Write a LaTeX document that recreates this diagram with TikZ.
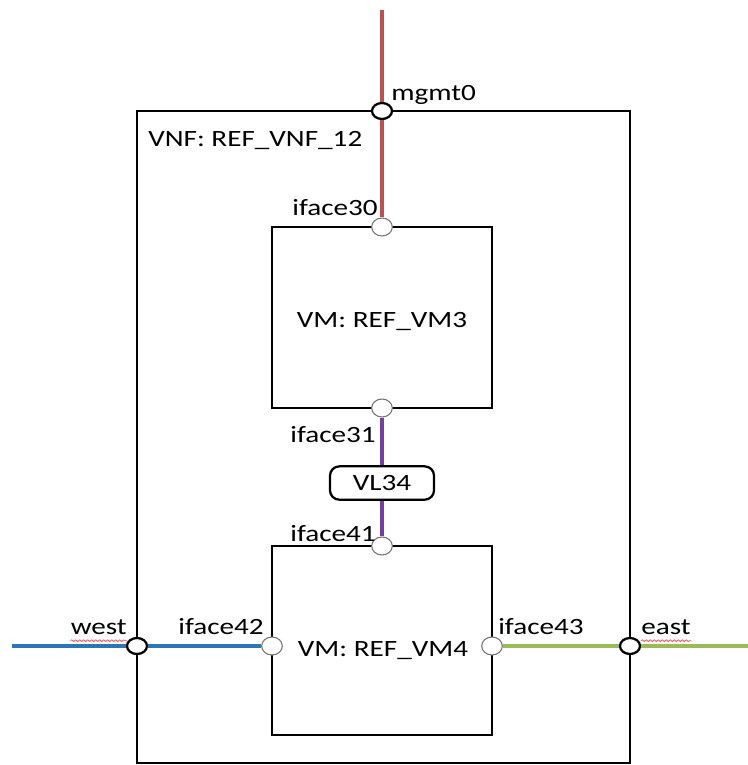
\documentclass[tikz,border=0pt]{standalone}
\usepackage{fontspec}
\setmainfont[FakeStretch=1.25]{Carlito}
\usetikzlibrary{shapes.geometric,decorations.pathmorphing}
\definecolor{mgmtRed}{RGB}{192,80,77}
\definecolor{vlPurple}{RGB}{120,60,165}
\definecolor{westBlue}{RGB}{46,117,182}
\definecolor{eastGreen}{RGB}{155,187,89}
\newcommand{\vmBox}[4]{
    \draw[box] (#1,#2) rectangle (#3,#4);
}
\tikzset{
    box/.style={line width=1.7pt},
    extport/.style={ellipse, draw, line width=1.7pt, fill=white,
        minimum width=15pt, minimum height=12pt, inner sep=0pt},
    vmport/.style={ellipse, draw=black!55, line width=0.8pt, fill=white,
        minimum width=15.5pt, minimum height=13.5pt, inner sep=0pt},
    lbl/.style={font=\fontsize{17.5}{20}\selectfont, inner sep=0pt},
    vlbox/.style={draw, line width=1.7pt, rounded corners=7pt, fill=white,
        minimum width=78pt, minimum height=25pt, inner sep=0pt},
    wire/.style={line width=2.6pt},
    squiggle/.style={red!75, line width=0.5pt, decorate,
        decoration={snake, amplitude=0.7pt, segment length=3pt}}
}

\begin{document}
\begin{tikzpicture}[x=0.75pt,y=-0.75pt]
\useasboundingbox (0,0) rectangle (748,765);

% VNF and its two VMs
\vmBox{137}{111}{630}{763}
\vmBox{272}{227}{492}{408}
\vmBox{272}{546}{492}{735}

% free ends of the outside links
\coordinate (mgmtEnd) at (382,10);
\coordinate (westEnd) at (12,646);
\coordinate (eastEnd) at (748,646);

% VNF ports
\node[extport] (mgmt0) at (382,111) {};
\node[extport] (west)  at (137,646) {};
\node[extport] (east)  at (630,646) {};

% VM ports
\node[vmport] (iface30) at (382,227) {};
\node[vmport] (iface31) at (382,408) {};
\node[vmport] (iface41) at (382,546) {};
\node[vmport] (iface42) at (272,646) {};
\node[vmport] (iface43) at (492,646) {};

% virtual link
\node[vlbox, lbl] (vl34) at (382,483) {VL34};

% links
\draw[wire, mgmtRed]  (mgmtEnd) -- (mgmt0) -- (iface30);
\draw[wire, vlPurple] (iface31) -- (vl34) -- (iface41);
\draw[wire, westBlue, line width=3.2pt] (westEnd) -- (west) -- (iface42);
\draw[wire, eastGreen] (iface43) -- (east) -- (eastEnd);

% labels
\node[lbl, anchor=base west] (mgmtLbl) at (391,100) {mgmt0};
\node[lbl, anchor=base west] (vnfLbl)  at (148,146) {VNF: REF\_VNF\_12};
\node[lbl, anchor=base east] (l30) at (378,215) {iface30};
\node[lbl, anchor=base] (vm3Lbl) at (382,327) {VM: REF\_VM3};
\node[lbl, anchor=base east] (l31) at (376,442) {iface31};
\node[lbl, anchor=base east] (l41) at (376,541) {iface41};
\node[lbl, anchor=base east] (westLbl) at (127,634) {west};
\node[lbl, anchor=base east] (l42) at (264,634) {iface42};
\node[lbl, anchor=base] (vm4Lbl) at (383,656) {VM: REF\_VM4};
\node[lbl, anchor=base west] (l43) at (498,634) {iface43};
\node[lbl, anchor=base west] (eastLbl) at (641,634) {east};

% spell-check marks
\draw[squiggle] ([yshift=-5pt]westLbl.base west) -- ([yshift=-5pt]westLbl.base east);
\draw[squiggle] ([yshift=-5pt]eastLbl.base west) -- ([yshift=-5pt]eastLbl.base east);

\end{tikzpicture}
\end{document}
